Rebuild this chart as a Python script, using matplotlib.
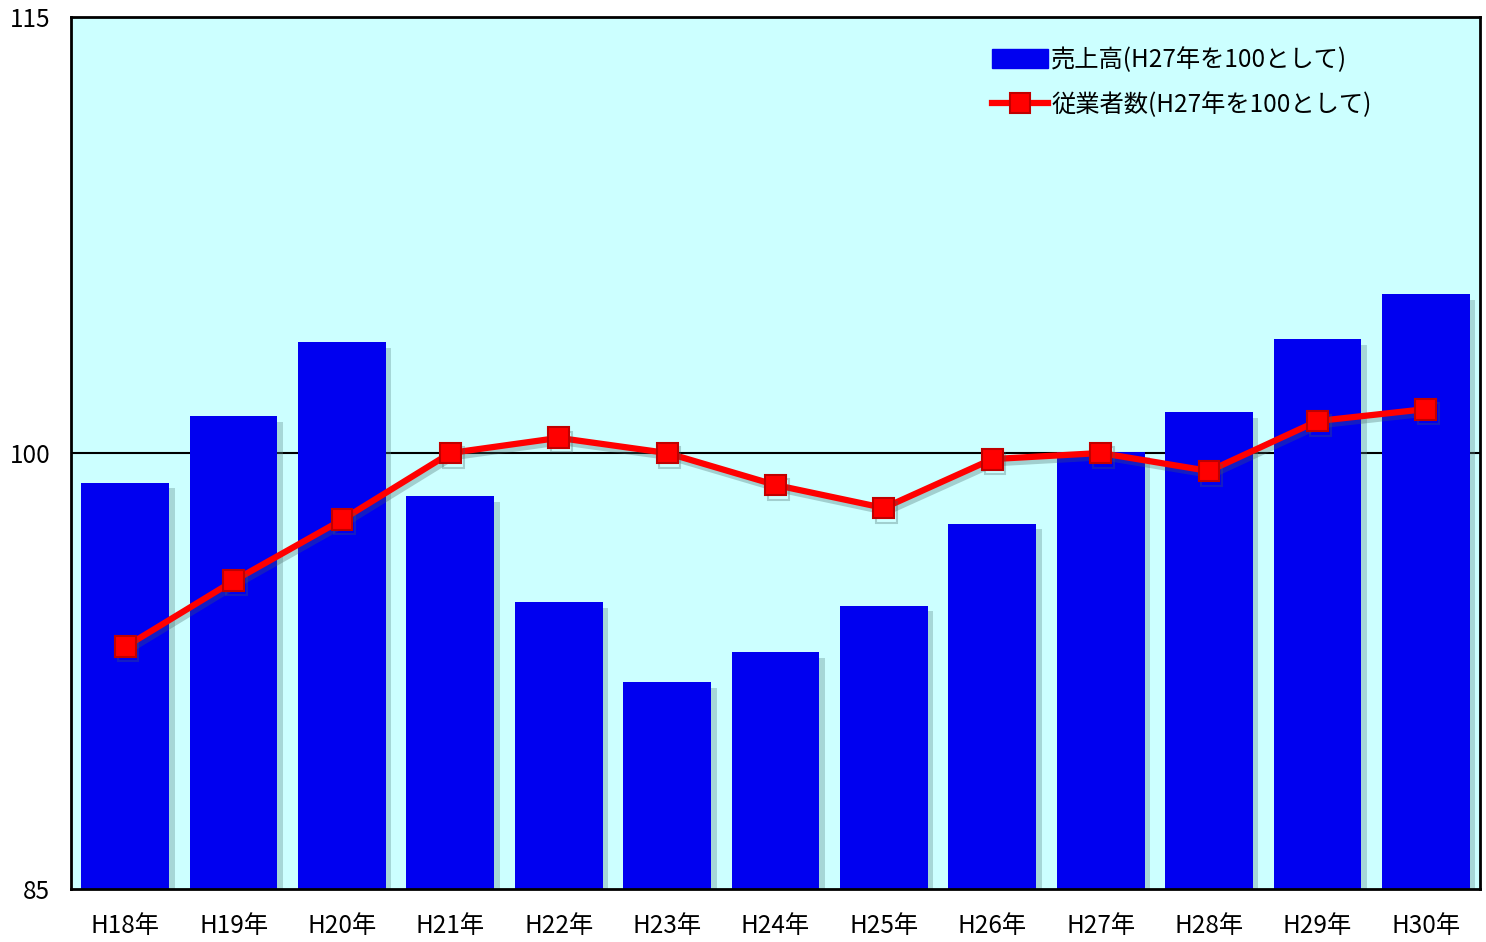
import matplotlib
matplotlib.use("Agg")
import matplotlib.pyplot as plt
import matplotlib.patheffects as pe
from matplotlib.lines import Line2D
from matplotlib.patches import Patch

plt.rcParams["font.family"] = ["Noto Sans CJK JP", "DejaVu Sans"]

years = ["H18年", "H19年", "H20年", "H21年", "H22年", "H23年", "H24年",
         "H25年", "H26年", "H27年", "H28年", "H29年", "H30年"]
sales = [98.97, 101.27, 103.82, 98.52, 94.87, 92.12, 93.15,
         94.74, 97.56, 100.05, 101.41, 103.92, 105.47]
employees = [93.33, 95.60, 97.70, 100.0, 100.52, 100.0, 98.90,
             98.11, 99.79, 100.0, 99.38, 101.10, 101.51]
label_sales = "売上高(H27年を100として)"
label_emp = "従業者数(H27年を100として)"

BLUE = "#0000f0"
BG = "#ccffff"
RED = "#ff0000"

fig = plt.figure(figsize=(14.86, 9.42), dpi=100)
ax = fig.add_axes([71 / 1486, 1 - 889 / 942, 1409 / 1486, 872 / 942])
ax.set_facecolor(BG)

x = range(len(years))
shadow = [pe.SimplePatchShadow(offset=(4, -4), shadow_rgbFace="#5f8f8f", alpha=0.35), pe.Normal()]
bars = ax.bar(x, [s - 85 for s in sales], bottom=85, width=0.81, color=BLUE, zorder=2)
for b in bars:
    b.set_path_effects(shadow)

ax.axhline(100, color="black", linewidth=1.5, zorder=1)

line_shadow = [pe.SimpleLineShadow(offset=(2, -3), shadow_color="#406060", alpha=0.3), pe.Normal()]
ax.plot(x, employees, color=RED, linewidth=4.5, marker="s", markersize=15,
        markerfacecolor=RED, markeredgecolor="#c00000", markeredgewidth=1.5,
        zorder=3, path_effects=line_shadow)

ax.set_xlim(-0.5, len(years) - 0.5)
ax.set_ylim(85, 115)
ax.set_yticks([85, 100, 115])
ax.set_xticks(list(x))
ax.set_xticklabels(years, fontsize=17.5)
ax.tick_params(axis="y", labelsize=17.5, length=0, pad=15)
ax.tick_params(axis="x", length=0, pad=17)
for s in ax.spines.values():
    s.set_linewidth(2)
    s.set_color("black")

handles = [
    Patch(facecolor=BLUE, edgecolor=BLUE),
    Line2D([], [], color=RED, linewidth=4.5, marker="s", markersize=15,
           markerfacecolor=RED, markeredgecolor="#c00000", markeredgewidth=1.5),
]
ax.legend(handles, [label_sales, label_emp], loc="upper left",
          bbox_to_anchor=(0.638, 0.991), frameon=False, fontsize=17.5,
          handlelength=2.3, handleheight=0.8, handletextpad=0.15, labelspacing=0.8)

fig.savefig("out.png", dpi=100)
